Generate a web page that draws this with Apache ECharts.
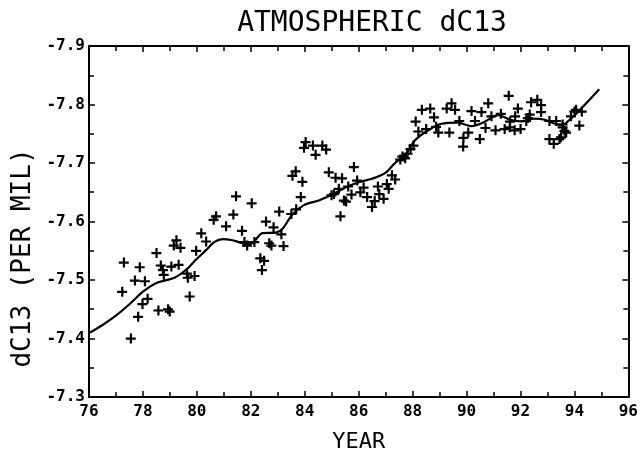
<!DOCTYPE html>
<html><head><meta charset="utf-8">
<script src="https://cdn.jsdelivr.net/npm/echarts@6/dist/echarts.min.js"></script>
<style>html,body{margin:0;padding:0;background:#fff}#c{width:641px;height:458px}</style>
</head><body><div id="c"></div>
<script>
const titleText = 'ATMOSPHERIC dC13';
const xName = 'YEAR';
const yName = 'dC13 (PER MIL)';
const xMin = 76, xMax = 96, xStep = 2;
const yMin = -7.9, yMax = -7.3, yStep = 0.1;

// scatter observations (year, dC13)
const pointYears = [
 79.24,79.14,79.39,78.50,79.97,77.29,77.88,78.66,79.05,79.32,78.74,78.77,77.70,78.07,79.63,79.91,79.66,77.23,79.73,78.17,77.98,78.57,78.93,78.99,77.82,77.55,
 81.45,82.03,83.05,83.50,80.71,80.62,81.35,81.08,82.56,82.84,80.16,81.67,83.13,80.34,81.76,81.86,82.13,82.68,82.76,83.21,82.35,82.49,82.41,
 84.03,83.97,84.30,84.65,84.79,84.40,83.66,83.54,83.91,85.82,84.89,85.14,85.38,85.94,85.61,86.18,86.71,87.04,85.26,84.99,85.08,86.06,85.73,86.31,86.76,86.92,85.53,85.45,86.59,86.49,83.85,85.32,83.68,
 89.44,89.26,89.57,88.34,88.65,88.79,90.18,90.55,88.11,88.21,88.50,88.87,88.95,89.36,89.73,90.31,90.06,89.88,90.49,89.87,88.03,87.81,87.72,87.54,87.62,87.92,87.23,87.35,87.11,
 91.56,90.80,92.39,92.62,92.76,91.90,91.27,92.76,92.34,91.80,90.92,92.21,93.07,93.32,94.00,93.87,90.70,91.07,91.41,91.60,91.78,92.00,93.56,93.69,93.07,93.44,93.23,92.27,91.61,
 94.06,94.27,94.18,93.56,93.63,93.50
];
const pointValues = [
 -7.568,-7.559,-7.555,-7.546,-7.550,-7.530,-7.522,-7.525,-7.523,-7.526,-7.517,-7.509,-7.499,-7.498,-7.511,-7.507,-7.504,-7.480,-7.472,-7.468,-7.459,-7.448,-7.450,-7.446,-7.437,-7.400,
 -7.643,-7.631,-7.617,-7.613,-7.609,-7.603,-7.612,-7.592,-7.600,-7.590,-7.580,-7.584,-7.578,-7.566,-7.565,-7.559,-7.565,-7.563,-7.559,-7.558,-7.537,-7.533,-7.517,
 -7.736,-7.726,-7.730,-7.730,-7.723,-7.714,-7.686,-7.678,-7.668,-7.693,-7.684,-7.675,-7.674,-7.670,-7.660,-7.658,-7.660,-7.664,-7.656,-7.645,-7.647,-7.650,-7.646,-7.642,-7.647,-7.639,-7.634,-7.636,-7.635,-7.625,-7.642,-7.609,-7.621,
 -7.802,-7.793,-7.791,-7.791,-7.793,-7.778,-7.789,-7.787,-7.771,-7.754,-7.758,-7.762,-7.752,-7.752,-7.772,-7.772,-7.752,-7.743,-7.741,-7.728,-7.730,-7.716,-7.708,-7.706,-7.711,-7.724,-7.679,-7.672,-7.656,
 -7.815,-7.802,-7.804,-7.808,-7.799,-7.793,-7.784,-7.787,-7.783,-7.780,-7.780,-7.772,-7.772,-7.772,-7.788,-7.780,-7.760,-7.756,-7.758,-7.761,-7.756,-7.758,-7.761,-7.752,-7.741,-7.741,-7.733,-7.777,-7.771,
 -7.791,-7.788,-7.764,-7.766,-7.755,-7.744
];

// smoothed trend curve
const curveYears = [76.04,76.53,77.02,77.51,78.00,78.50,79.17,79.61,79.97,80.34,80.65,80.96,81.32,81.69,82.00,82.43,82.93,83.17,83.54,83.97,84.52,85.02,85.51,86.00,86.49,86.99,87.35,87.72,88.09,88.58,89.07,89.69,90.18,90.61,91.17,91.61,92.05,92.49,92.90,93.27,93.56,93.82,94.23,94.92];
const curveValues = [-7.410,-7.424,-7.440,-7.459,-7.480,-7.495,-7.504,-7.518,-7.535,-7.551,-7.565,-7.570,-7.568,-7.563,-7.562,-7.580,-7.581,-7.587,-7.612,-7.628,-7.636,-7.646,-7.658,-7.667,-7.673,-7.683,-7.700,-7.714,-7.739,-7.756,-7.767,-7.769,-7.763,-7.769,-7.782,-7.774,-7.771,-7.776,-7.774,-7.767,-7.765,-7.774,-7.792,-7.826];

const FONT = '"DejaVu Sans Mono", "Liberation Mono", monospace';
const chart = echarts.init(document.getElementById('c'), null, {renderer: 'canvas'});

function xAxisDef(pos, showLabel) {
  return {
    type: 'value', min: xMin, max: xMax, interval: xStep, position: pos,
    axisLine: {show: true, onZero: false, lineStyle: {color: '#000', width: 2}},
    axisTick: {show: true, inside: true, length: 6, lineStyle: {color: '#000', width: 1.5}},
    minorTick: {show: true, splitNumber: 2, length: 5, lineStyle: {color: '#000', width: 1.5}},
    splitLine: {show: false},
    axisLabel: {show: showLabel, margin: 7, color: '#000', fontFamily: FONT, fontWeight: 'bold', fontSize: 16,
      formatter: v => String(Math.round(v))},
    name: showLabel ? xName : '', nameLocation: 'middle', nameGap: 34,
    nameTextStyle: {color: '#000', fontFamily: FONT, fontSize: 22}
  };
}
function yAxisDef(pos, showLabel) {
  return {
    type: 'value', min: yMin, max: yMax, interval: yStep, inverse: true, position: pos,
    axisLine: {show: true, onZero: false, lineStyle: {color: '#000', width: 2}},
    axisTick: {show: true, inside: true, length: 6, lineStyle: {color: '#000', width: 1.5}},
    minorTick: {show: true, splitNumber: 2, length: 5, lineStyle: {color: '#000', width: 1.5}},
    splitLine: {show: false},
    axisLabel: {show: showLabel, margin: 4, color: '#000', fontFamily: FONT, fontWeight: 'bold', fontSize: 16,
      formatter: v => v.toFixed(1)}
  };
}

const points = pointYears.map((x, i) => [x, pointValues[i]]);
const curve = curveYears.map((x, i) => [x, curveValues[i]]);

chart.setOption({
  animation: false,
  backgroundColor: '#fff',
  grid: {left: 89, right: 10, top: 46, bottom: 50},
  xAxis: [xAxisDef('bottom', true), xAxisDef('top', false)],
  yAxis: [yAxisDef('left', true), yAxisDef('right', false)],
  graphic: [
    {type: 'text', x: 372, y: 24, style: {text: titleText, fill: '#000', font: '28px ' + FONT, align: 'center', verticalAlign: 'middle'}},
    {type: 'text', x: 23, y: 258, rotation: Math.PI / 2, style: {text: yName, fill: '#000', font: '26px ' + FONT, align: 'center', verticalAlign: 'middle'}}
  ],
  series: [
    {type: 'line', data: curve, xAxisIndex: 0, yAxisIndex: 0, showSymbol: false, smooth: 0.3,
     lineStyle: {color: '#000', width: 2.2}, z: 2},
    {type: 'scatter', data: points, xAxisIndex: 0, yAxisIndex: 0,
     symbol: 'path://M4,0h2.2v4h3.8v2.2h-3.8v3.8h-2.2v-3.8h-4v-2.2h4z', symbolSize: 10,
     itemStyle: {color: '#000', opacity: 1}, z: 3}
  ]
});
</script></body></html>
